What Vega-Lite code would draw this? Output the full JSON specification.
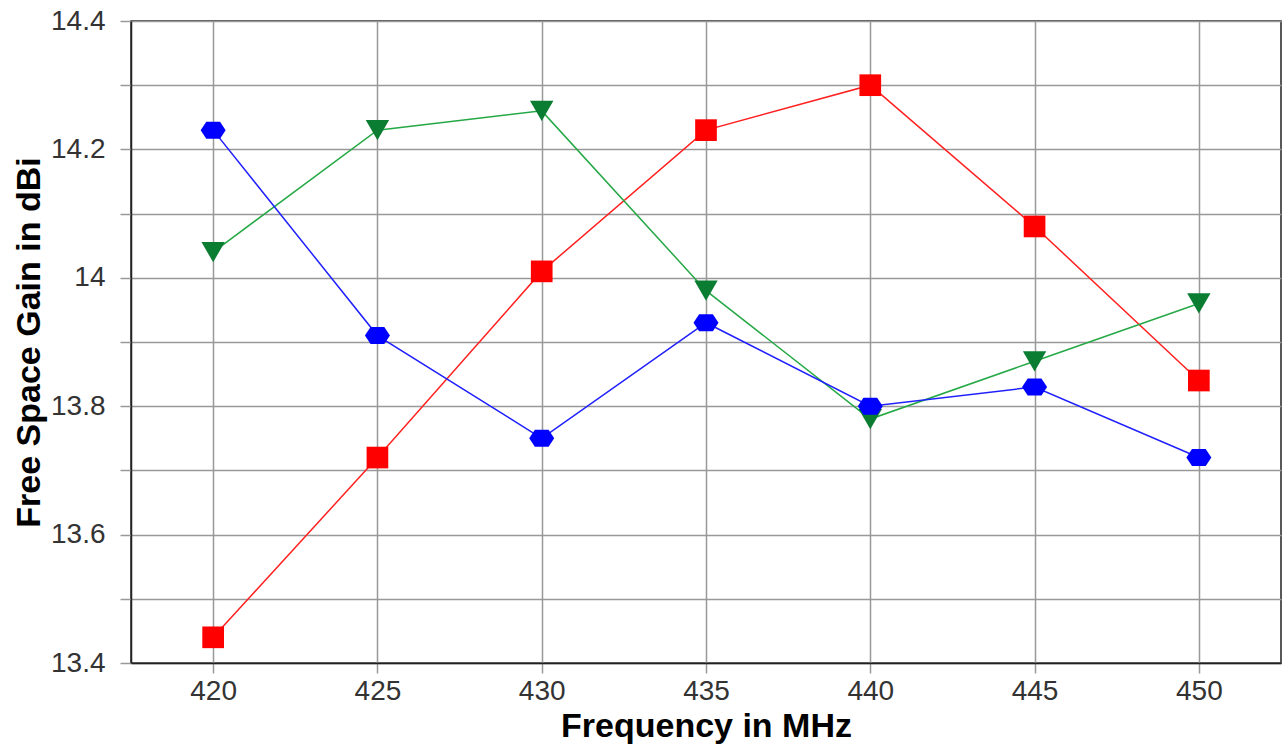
{
  "$schema": "https://vega.github.io/schema/vega-lite/v6.json",
  "width": 1150,
  "height": 642,
  "autosize": "none",
  "padding": {"left": 131, "top": 21, "right": 2, "bottom": 86},
  "background": "white",
  "config": {
    "view": {"stroke": "#222", "strokeWidth": 1.5},
    "font": "Liberation Sans"
  },
  "data": {
    "values": [
      {"f": 420, "gain": 13.44, "s": "red"},
      {"f": 425, "gain": 13.72, "s": "red"},
      {"f": 430, "gain": 14.01, "s": "red"},
      {"f": 435, "gain": 14.23, "s": "red"},
      {"f": 440, "gain": 14.30, "s": "red"},
      {"f": 445, "gain": 14.08, "s": "red"},
      {"f": 450, "gain": 13.84, "s": "red"},
      {"f": 420, "gain": 14.04, "s": "green"},
      {"f": 425, "gain": 14.23, "s": "green"},
      {"f": 430, "gain": 14.26, "s": "green"},
      {"f": 435, "gain": 13.98, "s": "green"},
      {"f": 440, "gain": 13.78, "s": "green"},
      {"f": 445, "gain": 13.87, "s": "green"},
      {"f": 450, "gain": 13.96, "s": "green"},
      {"f": 420, "gain": 14.23, "s": "blue"},
      {"f": 425, "gain": 13.91, "s": "blue"},
      {"f": 430, "gain": 13.75, "s": "blue"},
      {"f": 435, "gain": 13.93, "s": "blue"},
      {"f": 440, "gain": 13.80, "s": "blue"},
      {"f": 445, "gain": 13.83, "s": "blue"},
      {"f": 450, "gain": 13.72, "s": "blue"}
    ]
  },
  "encoding": {
    "x": {
      "field": "f", "type": "quantitative",
      "scale": {"domain": [417.5, 452.5], "nice": false, "zero": false},
      "axis": {
        "title": "Frequency in MHz",
        "values": [420, 425, 430, 435, 440, 445, 450],
        "grid": true, "gridColor": "#999", "gridWidth": 1.5,
        "tickColor": "#999", "tickWidth": 1.5, "tickSize": 10,
        "domainColor": "#222", "domainWidth": 1.5,
        "labelFont": "Liberation Sans", "labelFontSize": 28, "labelColor": "#333", "labelPadding": 4,
        "titleFont": "Liberation Sans", "titleFontSize": 34, "titleFontWeight": "bold", "titleColor": "#000", "titlePadding": 4
      }
    },
    "y": {
      "field": "gain", "type": "quantitative",
      "scale": {"domain": [13.4, 14.4], "nice": false, "zero": false},
      "axis": {
        "title": "Free Space Gain in dBi",
        "values": [13.4, 13.5, 13.6, 13.7, 13.8, 13.9, 14.0, 14.1, 14.2, 14.3, 14.4],
        "labelExpr": "round(datum.value*10)%2==0 ? format(datum.value,'~g') : ''",
        "grid": true, "gridColor": "#999", "gridWidth": 1.5,
        "tickColor": "#999", "tickWidth": 1.5, "tickSize": 11,
        "domainColor": "#222", "domainWidth": 1.5,
        "labelFont": "Liberation Sans", "labelFontSize": 28, "labelColor": "#333", "labelPadding": 15,
        "titleFont": "Liberation Sans", "titleFontSize": 34, "titleFontWeight": "bold", "titleColor": "#000", "titlePadding": 4
      }
    }
  },
  "layer": [
    {
      "mark": {"type": "line", "strokeWidth": 1.5},
      "encoding": {
        "color": {
          "field": "s", "type": "nominal", "legend": null,
          "scale": {"domain": ["red", "green", "blue"], "range": ["#ff2020", "#25a845", "#2020ff"]}
        },
        "detail": {"field": "s"}
      }
    },
    {
      "mark": {"type": "point", "filled": true, "opacity": 1},
      "encoding": {
        "color": {
          "field": "s", "type": "nominal", "legend": null,
          "scale": {"domain": ["red", "green", "blue"], "range": ["#ff0000", "#0a7d33", "#0000ff"]}
        },
        "shape": {
          "field": "s", "type": "nominal", "legend": null,
          "scale": {"domain": ["red", "green", "blue"], "range": ["square", "triangle-down", "M-1,0L-0.55,-0.68L0.55,-0.68L1,0L0.55,0.68L-0.55,0.68Z"]}
        },
        "size": {
          "field": "s", "type": "nominal", "legend": null,
          "scale": {"domain": ["red", "green", "blue"], "range": [470, 625, 600]}
        }
      }
    }
  ],
  "resolve": {"scale": {"color": "independent"}}
}
